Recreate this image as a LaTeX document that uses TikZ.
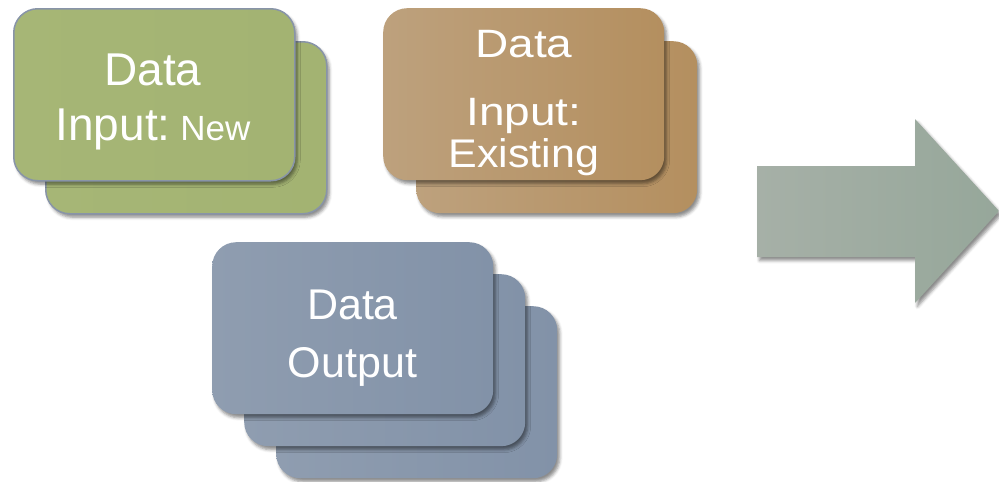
\documentclass[tikz,border=0pt]{standalone}
\usepackage{fontspec}
\setmainfont{Liberation Sans}
\usetikzlibrary{shadows.blur}
\definecolor{grnA}{HTML}{A6B676}
\definecolor{grnB}{HTML}{A3B372}
\definecolor{grnLine}{HTML}{8894A8}
\definecolor{brnA}{HTML}{BDA17D}
\definecolor{brnB}{HTML}{B48F5F}
\definecolor{bluA}{HTML}{8F9DB0}
\definecolor{bluB}{HTML}{8292A8}
\definecolor{arrA}{HTML}{A6B0A7}
\definecolor{arrB}{HTML}{96A79A}
\begin{document}
\begin{tikzpicture}[x=1pt,y=-1pt,
  card/.style={rectangle, rounded corners=24pt, inner sep=0pt, anchor=north west,
    minimum width=281pt, minimum height=172pt,
    blur shadow={shadow xshift=2.5pt, shadow yshift=-3.5pt, shadow blur radius=3pt, shadow opacity=45}},
  greencard/.style={card, draw=grnLine, line width=1.5pt, left color=grnA, right color=grnB},
  browncard/.style={card, left color=brnA, right color=brnB},
  bluecard/.style={card, left color=bluA, right color=bluB},
  lbl/.style={text=white, inner sep=0pt, anchor=base},
  big/.style={font=\fontsize{46}{55}\selectfont},
  mid/.style={font=\fontsize{43}{50}\selectfont}]
\useasboundingbox (0,0) rectangle (999,482);
% green stack
\node[greencard] (gback) at (45,41) {};
\node[greencard] (gfront) at (13,8) {};
\node[lbl, big] (gt1) at (153,85) {Data};
\node[lbl, big] (gt2) at (153,140) {Input:\fontsize{35}{42}\selectfont\ New};
% brown stack
\node[browncard] (bback) at (416,41) {};
\node[browncard] (bfront) at (383,8) {};
\node[lbl, big] (bt1) at (524,57) {\scalebox{1}[0.86]{Data}};
\node[lbl, big] (bt2) at (524,125) {\scalebox{1}[0.86]{Input:}};
\node[lbl, mid] (bt3) at (524,167) {\scalebox{1}[0.93]{Existing}};
% blue stack
\node[bluecard] (uback) at (276,306) {};
\node[bluecard] (umid) at (244,274) {};
\node[bluecard] (ufront) at (212,242) {};
\node[lbl, mid] (ut1) at (352.5,319) {Data};
\node[lbl, mid] (ut2) at (352.5,377) {Output};
% arrow
\path[left color=arrA, right color=arrB,
  blur shadow={shadow xshift=2.5pt, shadow yshift=-3.5pt, shadow blur radius=3pt, shadow opacity=45}]
  (757,166) -- (915,166) -- (915,119) -- (999,211) -- (915,303) -- (915,257) -- (757,257) -- cycle;
\end{tikzpicture}
\end{document}
